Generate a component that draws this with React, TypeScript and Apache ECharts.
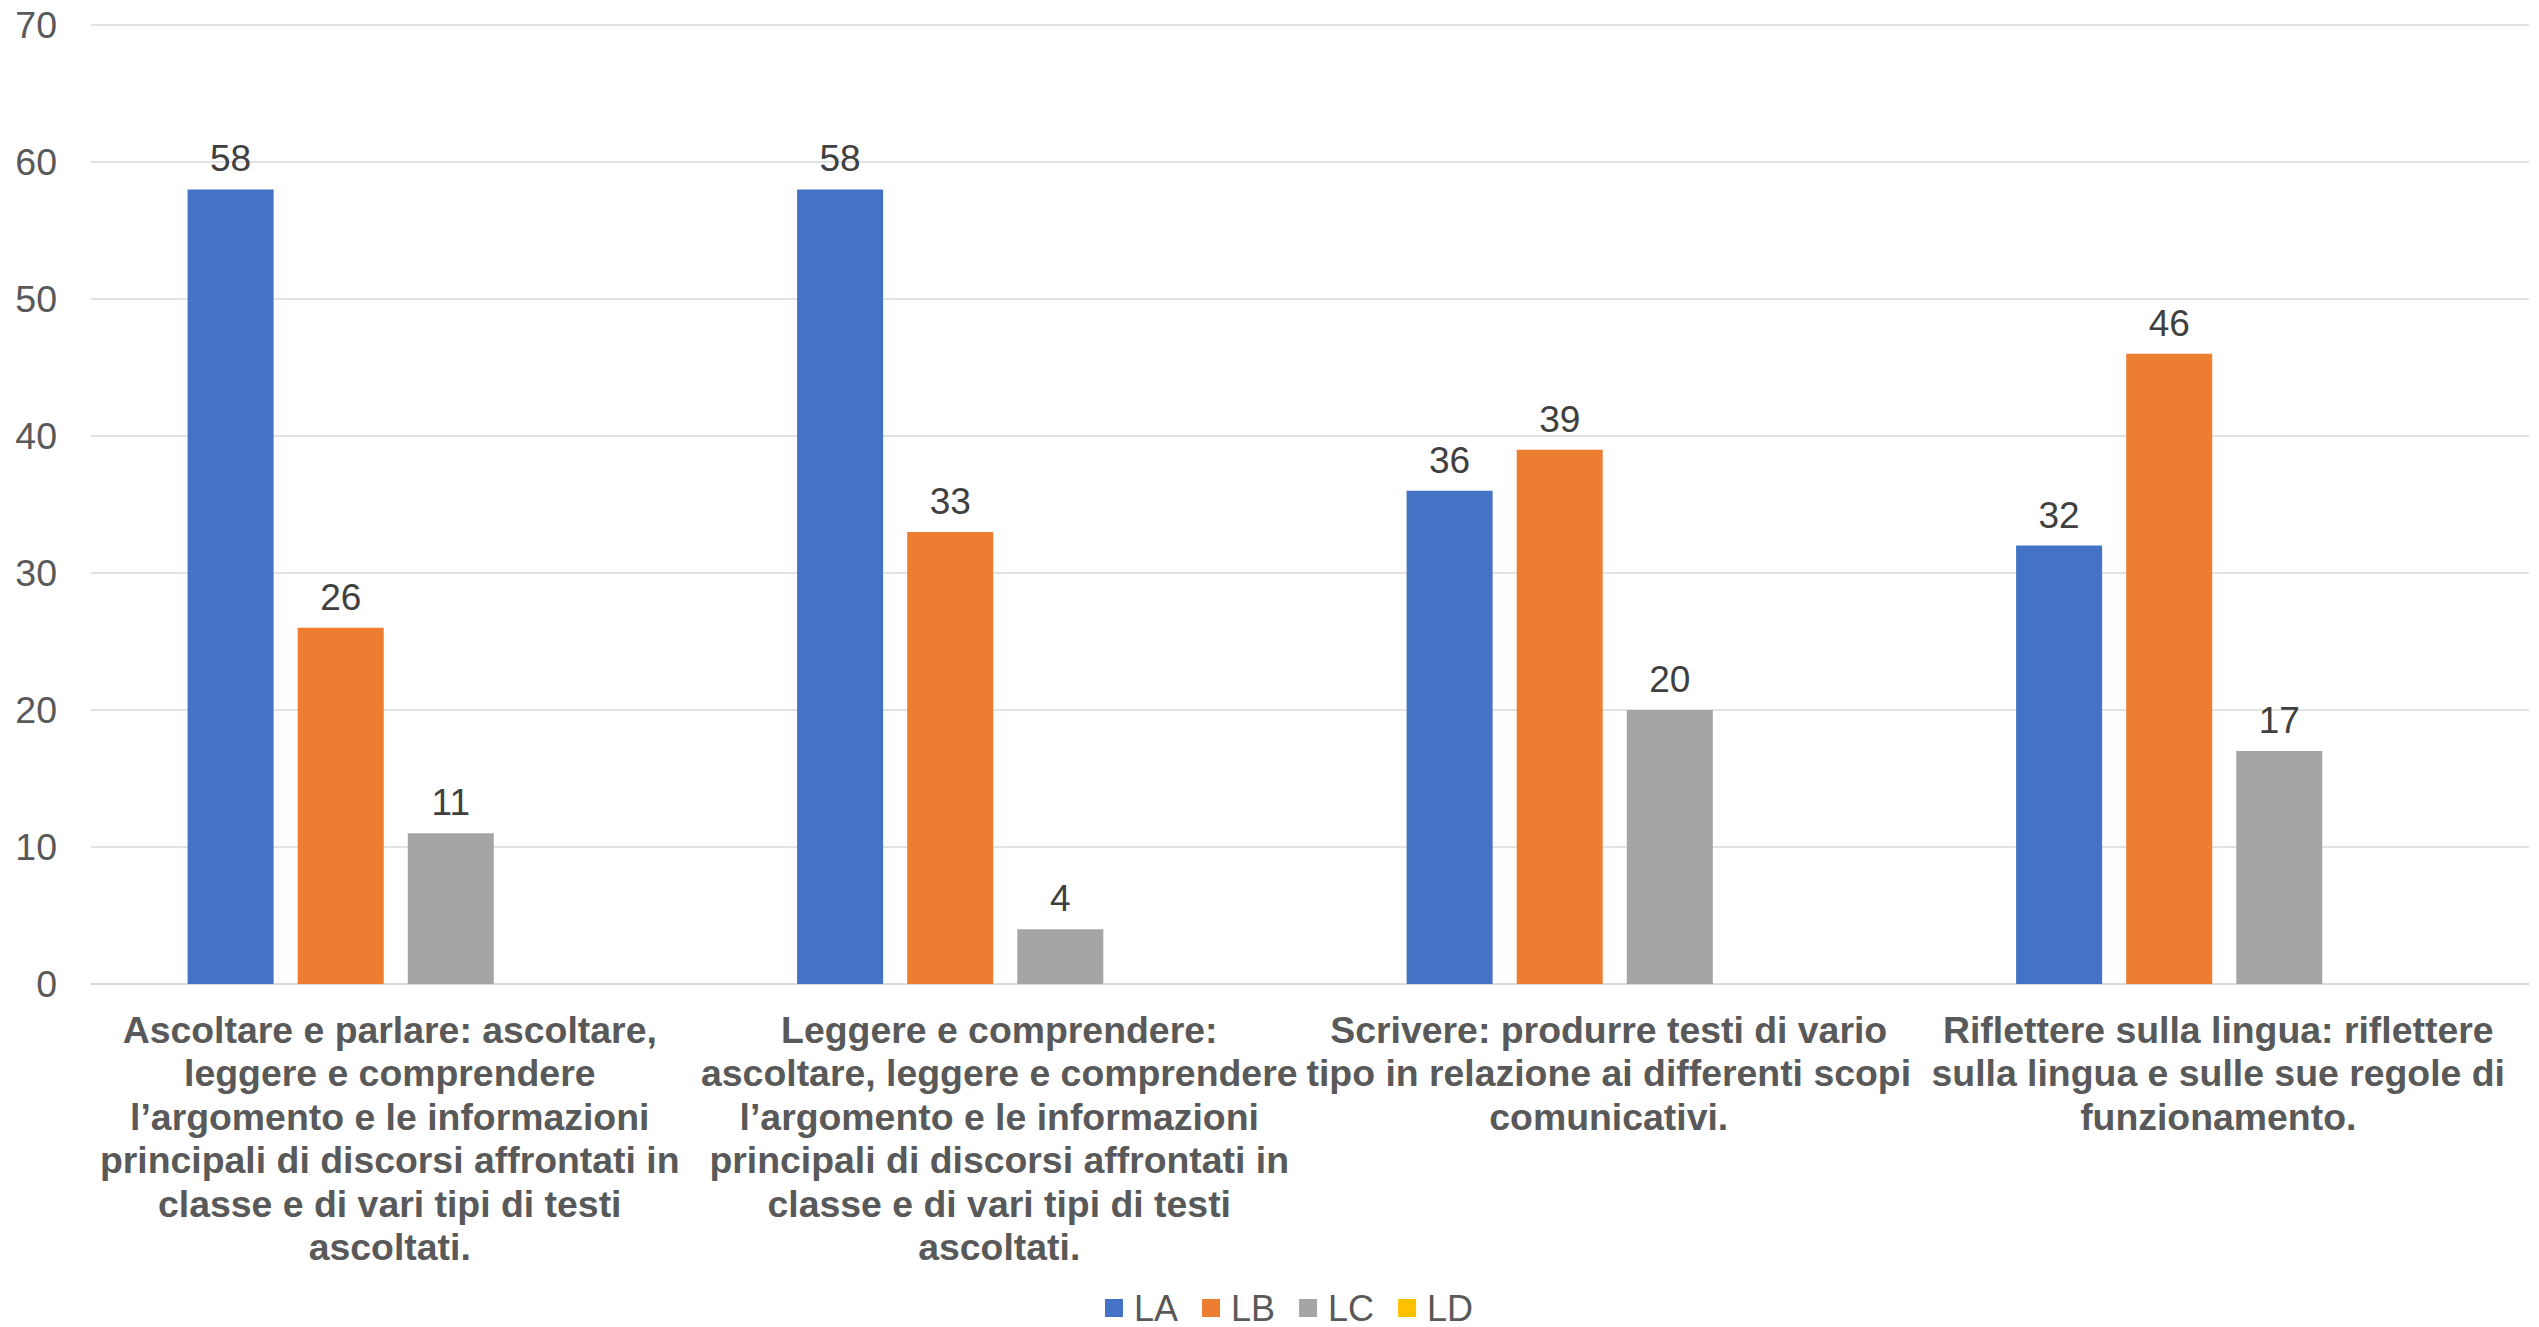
import React, { useEffect, useRef } from "react";
import * as echarts from "echarts";

const categories = [
  "Ascoltare e parlare: ascoltare,\nleggere e comprendere\nl’argomento e le informazioni\nprincipali di discorsi affrontati in\nclasse e di vari tipi di testi\nascoltati.",
  "Leggere e comprendere:\nascoltare, leggere e comprendere\nl’argomento e le informazioni\nprincipali di discorsi affrontati in\nclasse e di vari tipi di testi\nascoltati.",
  "Scrivere: produrre testi di vario\ntipo in relazione ai differenti scopi\ncomunicativi.",
  "Riflettere sulla lingua: riflettere\nsulla lingua e sulle sue regole di\nfunzionamento.",
];

const seriesNames = ["LA", "LB", "LC", "LD"];
const valuesLA = [58, 58, 36, 32];
const valuesLB = [26, 33, 39, 46];
const valuesLC = [11, 4, 20, 17];
const valuesLD: (number | null)[] = [null, null, null, null];
const seriesColors = ["#4472C4", "#ED7D31", "#A5A5A5", "#FFC000"];

const yMin = 0;
const yMax = 70;
const yInterval = 10;

const FONT = "'Liberation Sans', Arial, Helvetica, sans-serif";

export default function App() {
  const ref = useRef<HTMLDivElement>(null);

  useEffect(() => {
    if (!ref.current) return;
    const chart = echarts.init(ref.current, undefined, { renderer: "svg" });
    const allValues = [valuesLA, valuesLB, valuesLC, valuesLD];
    const option = {
      animation: false,
      backgroundColor: "#ffffff",
      textStyle: { fontFamily: FONT },
      grid: { left: 91, right: 10, top: 25, bottom: 343, containLabel: false },
      legend: {
        data: seriesNames,
        left: 1100,
        top: 1285,
        icon: "rect",
        itemWidth: 18,
        itemHeight: 18,
        itemGap: 24,
        textStyle: {
          fontFamily: FONT,
          fontSize: 36,
          color: "#595959",
          padding: [0, 0, 0, 6],
        },
      },
      xAxis: {
        type: "category",
        data: categories,
        axisLine: { show: true, lineStyle: { color: "#d9d9d9", width: 1.5 } },
        axisTick: { show: false },
        axisLabel: {
          interval: 0,
          hideOverlap: false,
          margin: 24,
          fontFamily: FONT,
          fontSize: 37.4,
          fontWeight: "bold",
          lineHeight: 43.5,
          color: "#595959",
          align: "center",
          verticalAlign: "top",
          padding: [0, 12, 0, 0],
        },
      },
      yAxis: {
        type: "value",
        min: yMin,
        max: yMax,
        interval: yInterval,
        axisLine: { show: false },
        axisTick: { show: false },
        splitLine: { lineStyle: { color: "#d9d9d9", width: 1.5 } },
        axisLabel: {
          margin: 34,
          fontFamily: FONT,
          fontSize: 37.5,
          color: "#595959",
        },
      },
      series: seriesNames.map((name, i) => ({
        name,
        type: "bar",
        data: allValues[i],
        barGap: "28%",
        barCategoryGap: "31.7%",
        itemStyle: { color: seriesColors[i] },
        label: {
          show: true,
          position: "top",
          distance: 12,
          fontFamily: FONT,
          fontSize: 37,
          color: "#404040",
        },
      })),
    };
    chart.setOption(option as any);
    return () => chart.dispose();
  }, []);

  return (
    <div
      ref={ref}
      style={{ position: "fixed", left: 0, top: 0, width: 2539, height: 1327, background: "#fff" }}
    />
  );
}
